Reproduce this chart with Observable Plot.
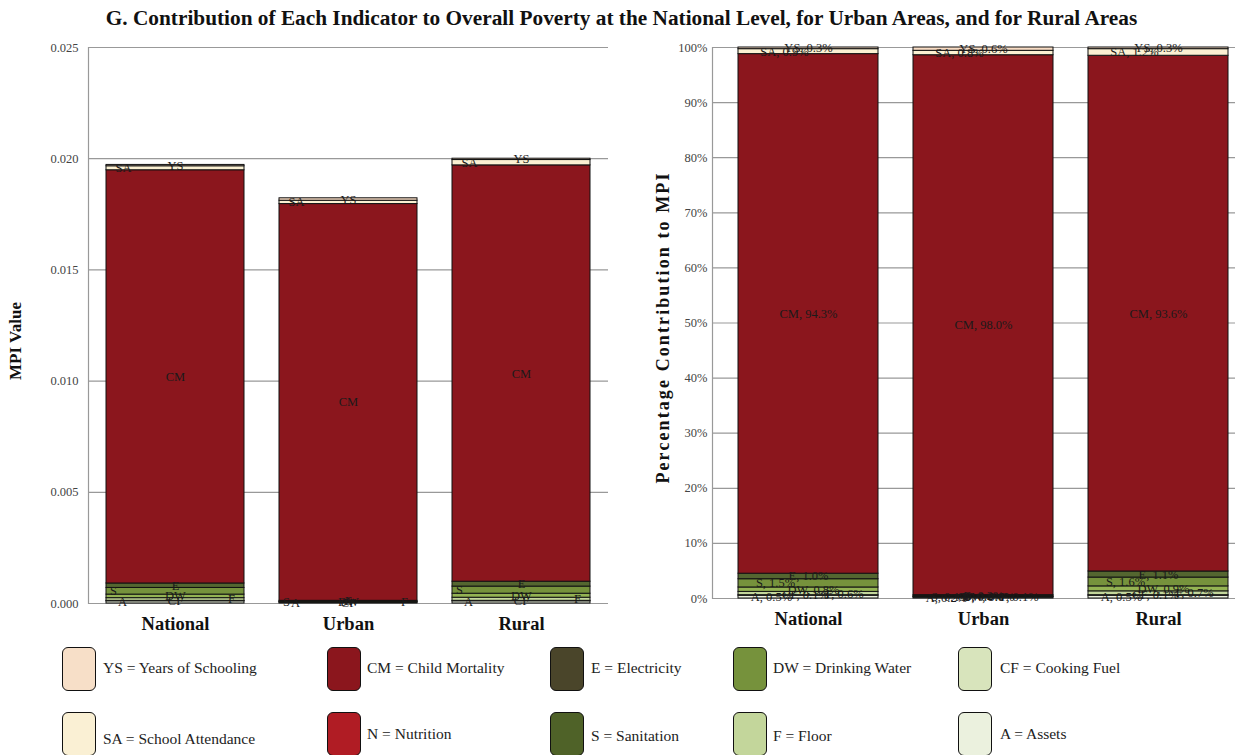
<!DOCTYPE html>
<html>
<head>
<meta charset="utf-8">
<script src="https://cdn.jsdelivr.net/npm/d3@7"></script>
<script src="https://cdn.jsdelivr.net/npm/@observablehq/plot@0.6"></script>
<style>
  html, body { margin: 0; padding: 0; background: #fff; }
  body { width: 1235px; height: 755px; position: relative; overflow: hidden; font-family: "Liberation Serif", "DejaVu Serif", serif; color: #111; }
  #title { position: absolute; left: 0; top: 6px; width: 1235px; text-align: center; font-weight: bold; font-size: 21.3px; padding-left: 8px; box-sizing: border-box; }
  .chart { position: absolute; top: 30px; }
  .ylab { position: absolute; font-weight: bold; font-size: 17px; white-space: nowrap; transform-origin: center; }
  #ylabR { font-size: 18px; letter-spacing: 2.1px; }
  .sw { position: absolute; width: 34px; height: 44px; border: 1px solid #111; border-radius: 6px; box-sizing: border-box; }
  .lt { position: absolute; font-size: 15.5px; white-space: nowrap; color: #222; }
</style>
</head>
<body>
<div id="title">G. Contribution of Each Indicator to Overall Poverty at the National Level, for Urban Areas, and for Rural Areas</div>
<div id="left" class="chart" style="left:0px"></div>
<div id="right" class="chart" style="left:615px"></div>
<div class="ylab" id="ylabL">MPI Value</div>
<div class="ylab" id="ylabR">Percentage Contribution to MPI</div>
<div id="legend"></div>
<script>
// ---- data (stack order bottom to top) ----
const regions = ["National", "Urban", "Rural"];
const indicators = ["A", "CF", "F", "DW", "S", "E", "N", "CM", "SA", "YS"];
const indicatorNames = {
  YS: "Years of Schooling", SA: "School Attendance", CM: "Child Mortality", N: "Nutrition",
  E: "Electricity", S: "Sanitation", DW: "Drinking Water", F: "Floor", CF: "Cooking Fuel", A: "Assets"
};
// MPI value contributions
const mpiNational = [0.00010, 0.00002, 0.00012, 0.00016, 0.00030, 0.00020, 0, 0.01858, 0.00018, 0.00006];
const mpiUrban    = [0.00004, 0,       0.00002, 0,       0.00002, 0.00004, 0, 0.01784, 0.00015, 0.00011];
const mpiRural    = [0.00010, 0.00002, 0.00014, 0.00018, 0.00032, 0.00022, 0, 0.01872, 0.00024, 0.00006];
// percentage contributions
const pctNational = [0.5, 0.1, 0.6, 0.8, 1.5, 1.0, 0.0, 94.3, 0.9, 0.3];
const pctUrban    = [0.2, 0.0, 0.1, 0.0, 0.1, 0.2, 0.0, 98.0, 0.8, 0.6];
const pctRural    = [0.5, 0.1, 0.7, 0.9, 1.6, 1.1, 0.0, 93.6, 1.2, 0.3];
const mpiTicks = [0, 0.005, 0.010, 0.015, 0.020, 0.025];
const pctTicks = [0, 10, 20, 30, 40, 50, 60, 70, 80, 90, 100];

// ---- styles ----
const FONT = "Liberation Serif";
const barColors = ["#EBF1DE", "#D8E4BC", "#C3D69B", "#94B353", "#76923C", "#546630", "#B01C24", "#8B161D", "#FBF0D2", "#F8DCC4"];
const legendColors = {YS: "#F7DFC8", SA: "#FAF0D4", CM: "#8B161D", N: "#B01C24", E: "#4A452A", S: "#4F6228", DW: "#76923C", F: "#C3D69B", CF: "#D8E4BC", A: "#EBF1DE"};
const dxLeft  = {A: -53, CF: 0, F: 56, DW: 0, S: -62, E: 0, N: 0, CM: 0, SA: -52, YS: 0};
const dxRight = {A: -37, CF: -3, F: 36, DW: 5, S: -33, E: 0, N: 0, CM: 0, SA: -24, YS: 0};

function buildRows(seriesByRegion, labelFn) {
  const rows = [];
  regions.forEach((r, ri) => {
    let acc = 0;
    indicators.forEach((k, i) => {
      const v = seriesByRegion[ri][i];
      rows.push({region: r, ind: k, value: v, y1: acc, y2: acc + v, label: labelFn(k, v)});
      acc += v;
    });
  });
  return rows;
}

const rowsMPI = buildRows([mpiNational, mpiUrban, mpiRural], (k) => k);
const rowsPct = buildRows([pctNational, pctUrban, pctRural], (k, v) => `${k}, ${v.toFixed(1)}%`);

function chart({rows, width, height, marginLeft, marginRight, marginTop, marginBottom, xRange, yDomain, ticks, tickFormat, tickPadding, dx}) {
  const labelMarks = indicators.filter(k => k !== "N").map(k =>
    Plot.text(rows.filter(d => d.ind === k), {
      x: "region", y: d => (d.y1 + d.y2) / 2, text: "label", dx: dx[k],
      fill: "#1a1a1a", fontSize: 12.5, fontFamily: FONT
    })
  );
  return Plot.plot({
    width, height, marginLeft, marginRight, marginTop, marginBottom,
    style: {fontFamily: FONT, fontSize: "12.5px", background: "transparent", color: "#333"},
    x: {domain: regions, range: xRange, paddingInner: 0.2, paddingOuter: 0.1, label: null},
    y: {domain: yDomain, label: null},
    color: {domain: indicators, range: barColors},
    marks: [
      Plot.gridY(ticks, {stroke: "#999", strokeOpacity: 1, strokeWidth: 1.2}),
      Plot.frame({anchor: "left", stroke: "#999", strokeWidth: 1.2}),
      Plot.barY(rows, {x: "region", y1: "y1", y2: "y2", fill: "ind", stroke: "#111", strokeWidth: 1}),
      ...labelMarks,
      Plot.axisY({ticks, tickSize: 0, tickPadding, tickFormat, fontSize: 12.5, fontFamily: FONT, fill: "#444", label: null}),
      Plot.axisX({tickSize: 0, tickPadding: 13, fontSize: 18.5, fontWeight: "bold", fontFamily: FONT, fill: "#111", label: null})
    ]
  });
}

document.getElementById("left").append(chart({
  rows: rowsMPI, width: 615, height: 610, marginLeft: 88, marginRight: 7, marginTop: 17, marginBottom: 37,
  xRange: [88, 608], yDomain: [0, 0.025], ticks: mpiTicks, tickFormat: d3.format(".3f"), tickPadding: 10, dx: dxLeft
}));
document.getElementById("right").append(chart({
  rows: rowsPct, width: 620, height: 610, marginLeft: 97, marginRight: 0, marginTop: 17, marginBottom: 42,
  xRange: [105, 631], yDomain: [0, 100], ticks: pctTicks, tickFormat: d => d + "%", tickPadding: 5, dx: dxRight
}));

// axis titles
const yl = document.getElementById("ylabL");
yl.style.left = (16 - yl.offsetWidth / 2) + "px";
yl.style.top = (341 - yl.offsetHeight / 2) + "px";
yl.style.transform = "rotate(-90deg)";
const yr = document.getElementById("ylabR");
yr.style.left = (663 - yr.offsetWidth / 2) + "px";
yr.style.top = (327 - yr.offsetHeight / 2) + "px";
yr.style.transform = "rotate(-90deg)";

// legend
const legendOrder = [["YS", "CM", "E", "DW", "CF"], ["SA", "N", "S", "F", "A"]];
const colSw = [62, 327, 550, 733, 958];
const colTx = [103, 367, 591, 773, 1000];
const rowSw = [647, 712];
const rowTx = [[659, 659, 659, 659, 659], [730, 725, 727, 727, 725]];
const leg = document.getElementById("legend");
legendOrder.forEach((row, ri) => row.forEach((k, ci) => {
  const s = document.createElement("div");
  s.className = "sw";
  s.style.left = colSw[ci] + "px"; s.style.top = rowSw[ri] + "px";
  s.style.background = legendColors[k];
  leg.append(s);
  const t = document.createElement("div");
  t.className = "lt";
  t.style.left = colTx[ci] + "px"; t.style.top = rowTx[ri][ci] + "px";
  t.textContent = `${k} = ${indicatorNames[k]}`;
  leg.append(t);
}));
</script>
</body>
</html>
